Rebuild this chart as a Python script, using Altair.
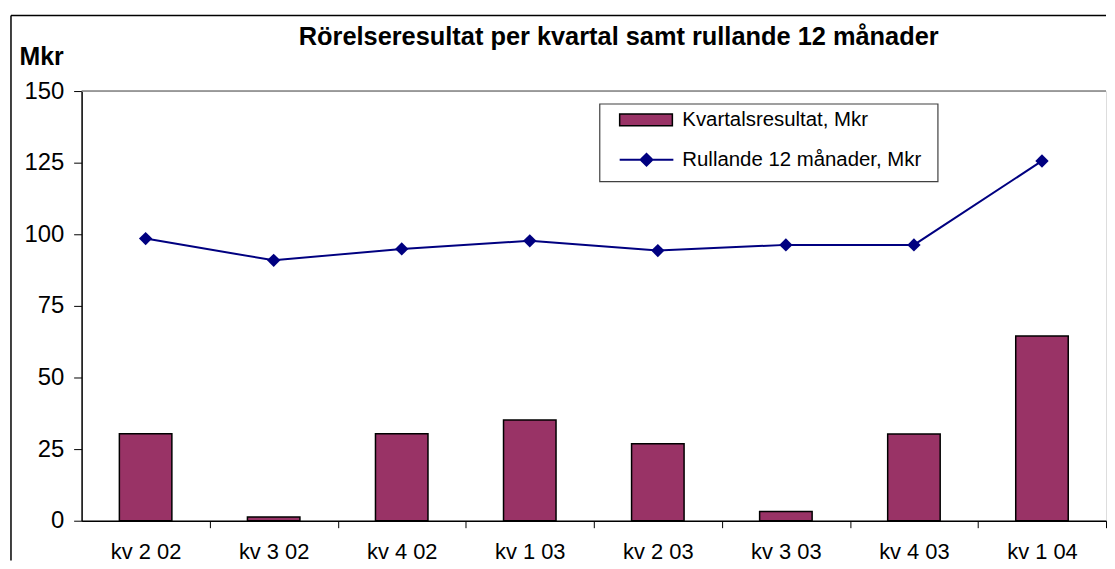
import altair as alt
import pandas as pd

quarters = ["kv 2 02", "kv 3 02", "kv 4 02", "kv 1 03", "kv 2 03", "kv 3 03", "kv 4 03", "kv 1 04"]
kvartal = [30.4, 1.3, 30.4, 35.2, 26.9, 3.2, 30.3, 64.5]
rullande = [98.5, 90.9, 94.9, 97.7, 94.3, 96.3, 96.3, 125.6]
y_ticks = [0, 25, 50, 75, 100, 125, 150]

title_text = "Rörelseresultat per kvartal samt rullande 12 månader"
bar_name = "Kvartalsresultat, Mkr"
line_name = "Rullande 12 månader, Mkr"

df = pd.DataFrame({"q": quarters, "kv": kvartal, "rull": rullande,
                   "s1": [bar_name] * len(quarters), "s2": [line_name] * len(quarters)})
one = pd.DataFrame({"t": [title_text]})

FONT = "Liberation Sans"
W, H = 1030, 432
STEP = W / len(quarters)

x = alt.X("q:N", sort=quarters, title=None,
          scale=alt.Scale(paddingInner=0.59, paddingOuter=0.295),
          axis=alt.Axis(labelAngle=0, labelFontSize=22, labelFont=FONT, labelColor="black",
                        domainColor="black", domainWidth=1.5, tickColor="black", tickWidth=1,
                        tickSize=7, tickOffset=STEP / 2, labelOffset=-STEP / 2,
                        labelPadding=31, labelBaseline="alphabetic"))

yaxis = alt.Axis(values=y_ticks, grid=False, labelFontSize=24, labelFont=FONT, labelColor="black",
                 domainColor="black", domainWidth=1.5, tickColor="black", tickWidth=1, tickSize=8,
                 labelPadding=10, title="Mkr", titleAngle=0, titleX=-63, titleY=-27,
                 titleAlign="left", titleBaseline="alphabetic", titleFont=FONT, titleFontSize=25,
                 titleFontWeight="bold", titleColor="black")

bars = alt.Chart(df).mark_bar(stroke="black", strokeWidth=1.5).encode(
    x=x,
    y=alt.Y("kv:Q", scale=alt.Scale(domain=[0, 150], nice=False), axis=yaxis),
    fill=alt.Fill("s1:N", scale=alt.Scale(domain=[bar_name], range=["#993366"]),
                  legend=alt.Legend(orient="none", legendX=540, legendY=1.5, title=None,
                                    labelFont=FONT, labelFontSize=20.5, labelColor="black",
                                    labelLimit=400,
                                    symbolType="M-1,-0.226H1V0.226H-1Z", symbolSize=2809,
                                    symbolStrokeColor="black", symbolStrokeWidth=1.5,
                                    symbolOpacity=1, labelOffset=9, padding=0)),
)

line = alt.Chart(df).mark_line(color="#000080", strokeWidth=2).encode(
    x=alt.X("q:N", sort=quarters),
    y=alt.Y("rull:Q"),
    stroke=alt.Stroke("s2:N", scale=alt.Scale(domain=[line_name], range=["#000080"]),
                      legend=alt.Legend(orient="none", legendX=540, legendY=41, title=None,
                                        labelFont=FONT, labelFontSize=20.5, labelColor="black",
                                        labelLimit=400,
                                        symbolType="M-1,0H1M-0.22,0L0,-0.22L0.22,0L0,0.22Z",
                                        symbolSize=2916, symbolFillColor="#000080",
                                        symbolStrokeWidth=2, labelOffset=8, padding=0)),
)

points = alt.Chart(df).mark_point(shape="diamond", filled=True, size=180, color="#000080", opacity=1).encode(
    x=alt.X("q:N", sort=quarters),
    y=alt.Y("rull:Q"),
)

title = alt.Chart(one).mark_text(font=FONT, fontSize=25.5, fontWeight="bold", color="black",
                                 align="center", baseline="alphabetic").encode(
    text="t:N", x=alt.value(540), y=alt.value(-46))

legend_box = alt.Chart(one).mark_rect(filled=False, stroke="#404040", strokeWidth=1.2).encode(
    x=alt.value(521), x2=alt.value(861), y=alt.value(13), y2=alt.value(91))

top_line = alt.Chart(one).mark_rule(color="#808080", strokeWidth=1.5).encode(
    x=alt.value(0), x2=alt.value(W), y=alt.value(0))

frame_top = alt.Chart(one).mark_rule(color="black", strokeWidth=1.5).encode(
    x=alt.value(-71), x2=alt.value(W), y=alt.value(-76))
frame_left = alt.Chart(one).mark_rule(color="black", strokeWidth=1.5).encode(
    x=alt.value(-71), y=alt.value(-76), y2=alt.value(472))

chart = alt.layer(frame_top, frame_left, top_line, legend_box, bars, line, points, title).properties(
    width=W, height=H,
    padding={"left": 2, "top": 5, "right": 0, "bottom": 0},
).resolve_scale(fill="independent", stroke="independent").configure_view(
    stroke="transparent"
).configure(background="white")

chart.save("out.html", embed_options={"renderer": "svg", "actions": False})
